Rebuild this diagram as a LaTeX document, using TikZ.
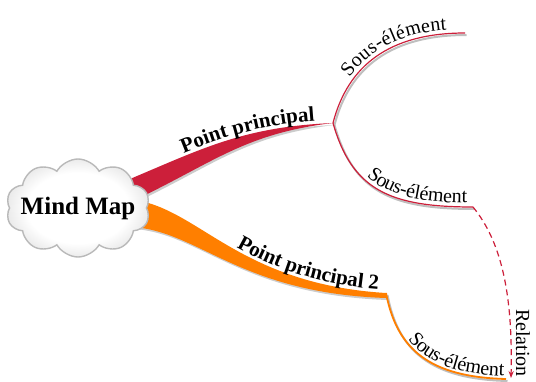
\documentclass[tikz,border=0pt]{standalone}
\usepackage{fontspec}
\setmainfont{Liberation Serif}
\usetikzlibrary{shapes.symbols,decorations.text,arrows.meta}

\definecolor{brred}{RGB}{204,31,58}
\definecolor{brorange}{RGB}{255,127,0}
\pgfdeclareradialshading{cloudshade}{\pgfpoint{0bp}{0bp}}{color(0bp)=(white); color(18bp)=(white); color(29bp)=(gray!25); color(36bp)=(gray!50); color(50bp)=(gray!50)}

\tikzset{
	shadowed/.style={preaction={draw=gray!50, line width=2pt, transform canvas={shift={(1.5pt,-2pt)}}}},
	subred/.style={draw=brred, line width=1.2pt, shadowed},
	suborange/.style={draw=brorange, line width=1.8pt, shadowed},
	branchshadow/.style={fill=gray!40, transform canvas={shift={(1.5pt,-2pt)}}},
	subtext/.style 2 args={postaction={decorate, decoration={text along path,
		text={|\fontsize{20}{24}\selectfont|Sous-élément}, raise=#1,
		text align={right, right indent=#2}}}},
	maintext/.style n args={3}{postaction={decorate, decoration={text along path,
		text={|\bfseries\fontsize{21}{25}\selectfont|#1}, raise=#2,
		text align={right, right indent=#3}}}},
}

\begin{document}
\begin{tikzpicture}[x=1pt,y=-1pt]
	\useasboundingbox (0,0) rectangle (536,381);

	\coordinate (fork) at (333,123);
	\coordinate (end2) at (386,293);
	\coordinate (sub1) at (465,33);
	\coordinate (sub2) at (473,207);
	\coordinate (sub3) at (506,379);
	\coordinate (rel) at (511,378);

	% red branch
	\fill[branchshadow] (118,184) .. controls (200,150) and (240,127) .. (fork) .. controls (240,134) and (210,166) .. (122,206) -- cycle;
	\fill[brred] (118,184) .. controls (200,150) and (240,127) .. (fork) .. controls (240,134) and (210,166) .. (122,206) -- cycle;
	\path[maintext={Point principal}{3pt}{18pt}] (118,184) .. controls (200,150) and (240,127) .. (fork);

	% orange branch
	\fill[branchshadow] (135,200) .. controls (200,210) and (240,284) .. (end2) -- (386,298) .. controls (240,293) and (200,232) .. (133,227) -- cycle;
	\fill[brorange] (135,200) .. controls (200,210) and (240,284) .. (end2) -- (386,298) .. controls (240,293) and (200,232) .. (133,227) -- cycle;
	\path[maintext={Point principal 2}{3pt}{8pt}] (135,200) .. controls (200,210) and (240,284) .. (end2);

	% sub-elements
	\draw[subred, subtext={4pt}{18pt}] (fork) .. controls (348,65) and (390,33) .. (sub1);
	\draw[subred, subtext={4pt}{6pt}] (fork) .. controls (352,190) and (390,207) .. (sub2);
	\draw[suborange, subtext={3pt}{2pt}] (end2) .. controls (397,350) and (430,377) .. (sub3);

	% relation
	\draw[brred, line width=1.2pt, dash pattern=on 6pt off 4pt, -{Stealth[length=7pt]}] (sub2) .. controls (500,240) and (513,290) .. (rel);
	\node[rotate=-90, font=\fontsize{20}{24}\selectfont] (reltext) at (523,343) {Relation};

	% centre
	\node[cloud, cloud puffs=10, cloud puff arc=120, aspect=1.5, inner sep=0pt, minimum width=144pt, minimum height=98pt,
		draw=gray!55, line width=1.4pt, shading=cloudshade] (mind) at (78,208) {};
	\node[font=\bfseries\fontsize{25}{30}\selectfont] (mindtext) at (mind.center) {Mind Map};
\end{tikzpicture}
\end{document}
